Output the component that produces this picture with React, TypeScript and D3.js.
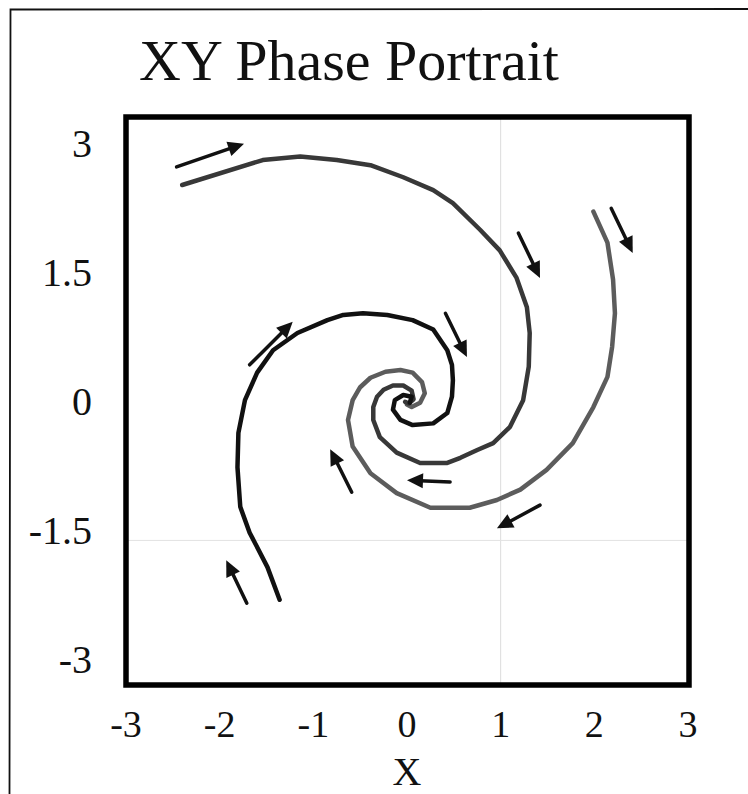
import React from "react";
import * as d3 from "d3";

const W = 748;
const H = 794;

// Axis ticks
const xTicks = [-3, -2, -1, 0, 1, 2, 3];
const yTicks = [3, 1.5, 0, -1.5, -3];
const yTickLabels = ["3", "1.5", "0", "-1.5", "-3"];

// Trajectory starting upper-left (dark grey)
const trajectoryUpperLeft: [number, number][] = [
  [-2.4, 2.51], [-1.54, 2.8], [-1.14, 2.84], [-0.75, 2.8], [-0.39, 2.74],
  [-0.04, 2.6], [0.28, 2.45], [0.49, 2.3], [0.78, 1.99], [0.99, 1.75],
  [1.17, 1.43], [1.28, 1.09], [1.31, 0.79], [1.3, 0.4], [1.24, 0.01],
  [1.1, -0.3], [0.92, -0.49], [0.75, -0.57], [0.57, -0.66], [0.43, -0.72],
  [0.14, -0.72], [-0.11, -0.6], [-0.29, -0.42], [-0.36, -0.22], [-0.36, -0.07],
  [-0.32, 0.05], [-0.25, 0.13], [-0.15, 0.18], [-0.04, 0.18], [0.05, 0.12],
  [0.07, 0.02], [0.02, -0.03], [-0.02, -0.01],
];

// Trajectory starting lower-left (black)
const trajectoryLowerLeft: [number, number][] = [
  [-1.36, -2.31], [-1.49, -1.93], [-1.68, -1.53], [-1.78, -1.23], [-1.81, -0.77],
  [-1.8, -0.37], [-1.73, 0.01], [-1.6, 0.33], [-1.43, 0.59], [-1.17, 0.79],
  [-0.85, 0.94], [-0.68, 1.0], [-0.47, 1.02], [-0.21, 1.0], [0.06, 0.94],
  [0.28, 0.83], [0.43, 0.59], [0.48, 0.42], [0.49, 0.24], [0.48, 0.05],
  [0.43, -0.14], [0.28, -0.26], [0.06, -0.28], [-0.07, -0.22], [-0.15, -0.1],
  [-0.13, 0.01], [-0.04, 0.07], [0.05, 0.05], [0.03, -0.02],
];

// Trajectory starting upper-right (medium grey)
const trajectoryUpperRight: [number, number][] = [
  [1.99, 2.2], [2.14, 1.84], [2.2, 1.41], [2.22, 1.02], [2.19, 0.63],
  [2.14, 0.28], [1.99, -0.07], [1.77, -0.49], [1.49, -0.8], [1.21, -1.03],
  [0.96, -1.15], [0.67, -1.24], [0.25, -1.24], [-0.11, -1.07], [-0.39, -0.84],
  [-0.58, -0.53], [-0.63, -0.22], [-0.58, 0.01], [-0.5, 0.16], [-0.39, 0.27],
  [-0.23, 0.34], [-0.07, 0.36], [0.06, 0.33], [0.16, 0.22], [0.19, 0.09],
  [0.14, -0.02], [0.05, -0.07], [0.0, -0.04],
];

// Direction arrows: [x1, y1, x2, y2] (tail to tip)
const flowArrows: [number, number, number, number][] = [
  [-2.46, 2.72, -1.74, 2.99],
  [1.19, 1.95, 1.42, 1.43],
  [2.18, 2.24, 2.41, 1.72],
  [0.41, 1.02, 0.64, 0.51],
  [-1.68, 0.42, -1.22, 0.92],
  [-0.59, -1.06, -0.82, -0.56],
  [0.46, -0.94, 0.0, -0.92],
  [1.42, -1.21, 0.96, -1.48],
  [-1.71, -2.35, -1.93, -1.85],
];

// Faint guide lines
const guideX = [1];
const guideY = [-1.62];

const SERIF = "'Liberation Serif', 'Times New Roman', serif";

export default function App() {
  const x = d3.scaleLinear().domain([-3, 3]).range([126, 688]);
  const y = d3.scaleLinear().domain([-3.3, 3.3]).range([685, 117]);

  const line = d3
    .line<[number, number]>()
    .x((d) => x(d[0]))
    .y((d) => y(d[1]))
    .curve(d3.curveLinear);

  const series = [
    { data: trajectoryUpperRight, color: "#5c5c5c" },
    { data: trajectoryUpperLeft, color: "#383838" },
    { data: trajectoryLowerLeft, color: "#111111" },
  ];

  const arrowShapes = flowArrows.map(([x1, y1, x2, y2]) => {
    const px1 = x(x1), py1 = y(y1), px2 = x(x2), py2 = y(y2);
    const dx = px2 - px1, dy = py2 - py1;
    const len = Math.hypot(dx, dy);
    const ux = dx / len, uy = dy / len;
    const headLen = 16, halfW = 7.5;
    const bx = px2 - ux * headLen, by = py2 - uy * headLen;
    const head = [
      [px2, py2],
      [bx - uy * halfW, by + ux * halfW],
      [bx + uy * halfW, by - ux * halfW],
    ];
    return { px1, py1, bx: px2 - ux * (headLen - 3), by: py2 - uy * (headLen - 3), head };
  });

  const [x0, x1] = x.range();
  const [yb, yt] = y.range();

  return (
    <svg width={W} height={H} style={{ position: "absolute", left: 0, top: 0, background: "#fff" }}>
      {/* outer page border */}
      <path d={`M 9.5 ${H} L 10.5 9.5 L ${W} 9`} fill="none" stroke="#111" strokeWidth={1.8} />

      <text x={349} y={80} fontFamily={SERIF} fontSize={58} textAnchor="middle" fill="#111">
        XY Phase Portrait
      </text>

      {/* faint guides */}
      {guideX.map((g) => (
        <line key={"gx" + g} x1={x(g)} x2={x(g)} y1={yt} y2={yb} stroke="#dcdcdc" strokeWidth={1} />
      ))}
      {guideY.map((g) => (
        <line key={"gy" + g} x1={x0} x2={x1} y1={y(g)} y2={y(g)} stroke="#e2e2e2" strokeWidth={1} />
      ))}

      {series.map((s, i) => (
        <path
          key={i}
          d={line(s.data) || ""}
          fill="none"
          stroke={s.color}
          strokeWidth={4.5}
          strokeLinejoin="round"
          strokeLinecap="round"
        />
      ))}

      {arrowShapes.map((a, i) => (
        <g key={i}>
          <line x1={a.px1} y1={a.py1} x2={a.bx} y2={a.by} stroke="#111" strokeWidth={3.5} strokeLinecap="round" />
          <polygon points={a.head.map((p) => p.join(",")).join(" ")} fill="#111" />
        </g>
      ))}

      {/* plot frame */}
      <rect x={x0} y={yt} width={x1 - x0 + 1} height={yb - yt} fill="none" stroke="#000" strokeWidth={5.5} />

      {yTicks.map((t, i) => (
        <text
          key={t}
          x={92}
          y={y(t)}
          dy="0.35em"
          fontFamily={SERIF}
          fontSize={40}
          textAnchor="end"
          fill="#111"
        >
          {yTickLabels[i]}
        </text>
      ))}

      {xTicks.map((t) => (
        <text
          key={t}
          x={x(t)}
          y={737}
          fontFamily={SERIF}
          fontSize={38}
          textAnchor="middle"
          fill="#111"
        >
          {String(t)}
        </text>
      ))}

      <text x={407} y={785} fontFamily={SERIF} fontSize={40} textAnchor="middle" fill="#111">
        X
      </text>
    </svg>
  );
}
